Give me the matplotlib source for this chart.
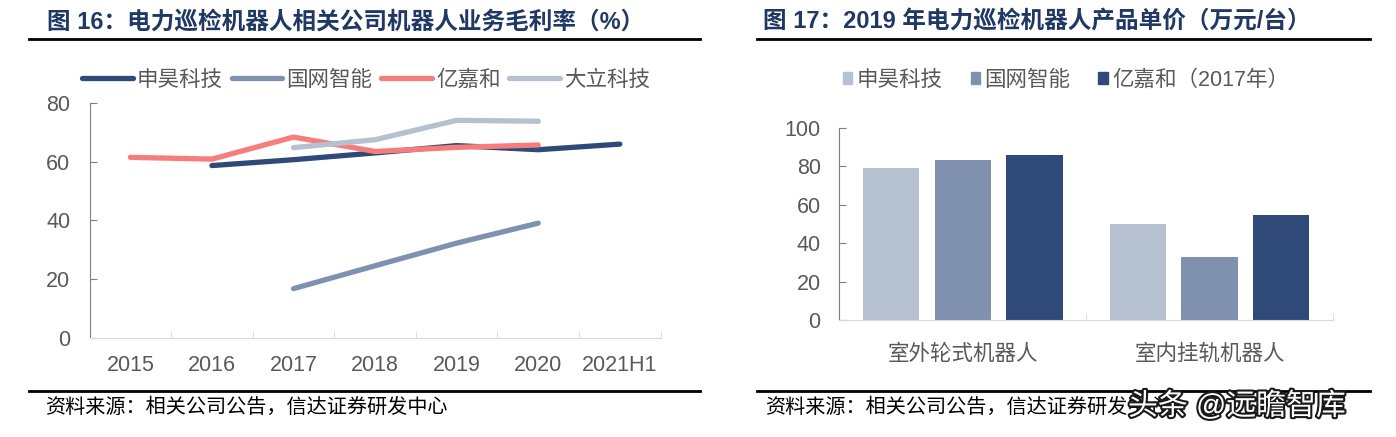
import matplotlib.pyplot as plt
import matplotlib.patheffects as pe
from matplotlib.lines import Line2D
from matplotlib.patches import Patch
import numpy as np

plt.rcParams['font.family'] = ['Liberation Sans', 'Noto Sans CJK SC']

# left chart: gross margin (%)
years = ['2015', '2016', '2017', '2018', '2019', '2020', '2021H1']
shenhao = [np.nan, 58.7, 60.7, 63.0, 65.5, 64.1, 66.0]
guowang = [np.nan, np.nan, 16.8, 24.6, 32.3, 39.1, np.nan]
yijiahe = [61.5, 60.9, 68.4, 63.5, 64.9, 65.7, np.nan]
dali = [np.nan, np.nan, 64.8, 67.5, 74.1, 73.8, np.nan]
line_names = ['申昊科技', '国网智能', '亿嘉和', '大立科技']

# right chart: unit price 2019 (10k yuan)
robot_types = ['室外轮式机器人', '室内挂轨机器人']
price_shenhao = [79.2, 49.9]
price_guowang = [83.4, 32.6]
price_yijiahe = [85.6, 54.6]
bar_names = ['申昊科技', '国网智能', '亿嘉和（2017年）']

navy = '#2F4A78'
mid = '#8091AF'
light = '#B5C0D0'
salmon = '#F77C7C'
grey_txt = '#595959'
title_col = '#1F3864'

W, H = 1396, 437
fig = plt.figure(figsize=(W / 100, H / 100), dpi=100)

def fx(px):
    return px / W

def fy(py):
    return 1 - py / H

# ---------- left chart ----------
ax1 = fig.add_axes([fx(89.6), fy(338), fx(571), (338 - 103) / H])
x = np.arange(len(years))
for vals, col in zip([shenhao, guowang, yijiahe, dali], [navy, mid, salmon, light]):
    ax1.plot(x, vals, color=col, lw=3.8, solid_capstyle='round')
ax1.set_xlim(-0.5, len(years) - 0.5)
ax1.set_ylim(0, 80)
ax1.set_yticks([0, 20, 40, 60, 80])
ax1.set_xticks(x)
ax1.set_xticklabels(years)
ax1.set_xticks(np.arange(0.5, len(years)), minor=True)
ax1.tick_params(axis='x', which='major', length=0, pad=12, labelsize=15.5, labelcolor=grey_txt)
ax1.tick_params(axis='x', which='minor', direction='in', length=5, color='#D9D9D9')
ax1.tick_params(axis='y', direction='in', length=5, color='#7F7F7F', pad=14,
                labelsize=15.5, labelcolor=grey_txt)
for s in ['top', 'right']:
    ax1.spines[s].set_visible(False)
ax1.spines['left'].set_color('#7F7F7F')
ax1.spines['bottom'].set_color('#D9D9D9')

h1 = [Line2D([], [], color=c, lw=3.8, solid_capstyle='round') for c in [navy, mid, salmon, light]]
fig.legend(h1, line_names, loc='center', bbox_to_anchor=(fx(366), fy(80)), ncol=4,
           frameon=False, fontsize=15.5, handlelength=2.35, handletextpad=0.2,
           columnspacing=0.4, labelcolor=grey_txt)

# ---------- right chart ----------
ax2 = fig.add_axes([fx(839.4), fy(320), fx(493.5), (320 - 127.7) / H])
xb = np.arange(len(robot_types))
bw = 0.229
ax2.bar(xb - 0.29, price_shenhao, bw, color=light)
ax2.bar(xb, price_guowang, bw, color=mid)
ax2.bar(xb + 0.29, price_yijiahe, bw, color=navy)
ax2.set_xlim(-0.5, len(robot_types) - 0.5)
ax2.set_ylim(0, 100)
ax2.set_yticks([0, 20, 40, 60, 80, 100])
ax2.set_xticks(xb)
ax2.set_xticklabels(robot_types)
ax2.set_xticks(np.arange(0.5, len(robot_types)), minor=True)
ax2.tick_params(axis='x', which='major', length=0, pad=17, labelsize=15.5, labelcolor=grey_txt)
ax2.tick_params(axis='x', which='minor', direction='in', length=5, color='#D9D9D9')
ax2.tick_params(axis='y', direction='in', length=5, color='#7F7F7F', pad=13.5,
                labelsize=15.5, labelcolor=grey_txt)
for s in ['top', 'right']:
    ax2.spines[s].set_visible(False)
ax2.spines['left'].set_color('#7F7F7F')
ax2.spines['bottom'].set_color('#D9D9D9')

h2 = [Patch(color=c) for c in [light, mid, navy]]
fig.legend(h2, bar_names, loc='center', bbox_to_anchor=(fx(1066), fy(80)), ncol=3,
           frameon=False, fontsize=15.5, handlelength=0.45, handleheight=0.45,
           handletextpad=0.2, columnspacing=1.3, labelcolor=grey_txt)

# ---------- titles, rules, sources ----------
fig.text(fx(47), fy(22), '图 16：电力巡检机器人相关公司机器人业务毛利率（%）', fontsize=17,
         fontweight='bold', color=title_col, va='center', ha='left')
fig.text(fx(763), fy(22), '图 17：2019 年电力巡检机器人产品单价（万元/台）', fontsize=17,
         fontweight='bold', color=title_col, va='center', ha='left')
for x0, x1 in [(29, 700), (757, 1370)]:
    for yy in [39, 391]:
        fig.add_artist(Line2D([fx(x0), fx(x1)], [fy(yy), fy(yy)], transform=fig.transFigure,
                              color='black', lw=2))
src = '资料来源：相关公司公告，信达证券研发中心'
fig.text(fx(45), fy(407), src, fontsize=14.5, style='italic', color='black', va='center')
fig.text(fx(765), fy(407), src, fontsize=14.5, style='italic', color='black', va='center')
fig.text(fx(1128), fy(406), '头条 @远瞻智库', fontsize=21.5, color='white', va='center',
         path_effects=[pe.withStroke(linewidth=3, foreground='#1A1A1A')])

fig.savefig('out.png', dpi=100)
